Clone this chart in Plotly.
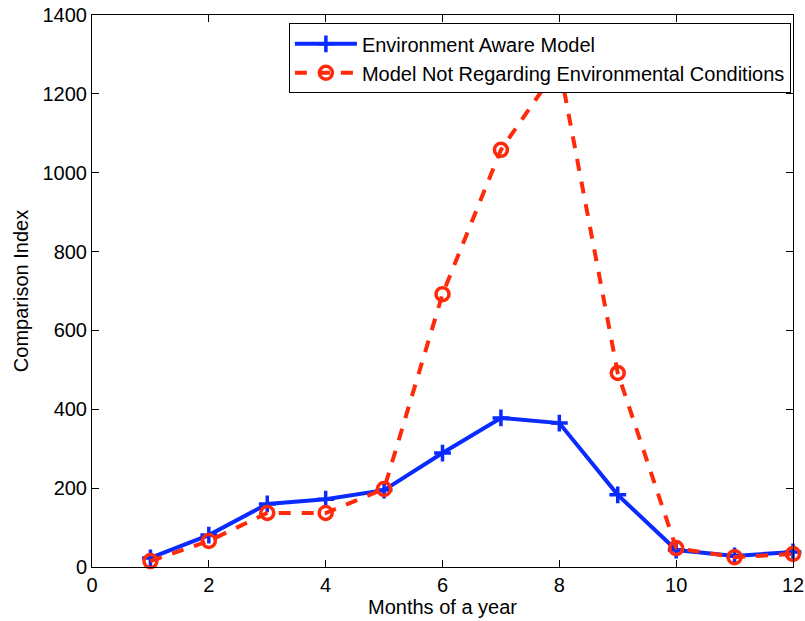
import plotly.graph_objects as go

months = [1, 2, 3, 4, 5, 6, 7, 8, 9, 10, 11, 12]
aware = [23, 81, 160, 172, 195, 289, 378, 365, 183, 43, 28, 38]
not_regarding = [15, 66, 137, 137, 198, 692, 1058, 1272, 492, 48, 25, 33]

x_ticks = [0, 2, 4, 6, 8, 10, 12]
y_ticks = [0, 200, 400, 600, 800, 1000, 1200, 1400]

BLUE = "#0a2bff"
RED = "#ff2a0a"
FONT = "Liberation Sans, Arial, Helvetica, sans-serif"
FS = 20

fig = go.Figure()
fig.add_trace(go.Scatter(
    x=months, y=aware, mode="lines+markers", name="Environment Aware Model",
    line=dict(color=BLUE, width=4),
    marker=dict(symbol="cross-thin-open", size=12, line=dict(color=BLUE, width=3.5)),
    cliponaxis=False,
))
fig.add_trace(go.Scatter(
    x=months, y=not_regarding, mode="lines+markers",
    name="Model Not Regarding Environmental Conditions",
    line=dict(color=RED, width=4, dash="12px,11px"),
    marker=dict(symbol="circle-open", size=13, color=RED, line=dict(color=RED, width=3.5)),
    cliponaxis=False,
))

axis_common = dict(
    showline=True, linecolor="black", linewidth=1, mirror="ticks",
    ticks="inside", ticklen=7, tickcolor="black", showgrid=False, zeroline=False,
    tickfont=dict(family=FONT, size=FS, color="black"),
)

fig.update_layout(
    width=805, height=621,
    margin=dict(l=92, r=12, t=15, b=54, autoexpand=False),
    paper_bgcolor="white", plot_bgcolor="white",
    font=dict(family=FONT, size=FS, color="black"),
    showlegend=True,
    legend=dict(
        x=0.997, y=0.985, xanchor="right", yanchor="top",
        bgcolor="white", bordercolor="black", borderwidth=1,
        font=dict(family=FONT, size=FS, color="black"),
        tracegroupgap=0, itemwidth=62,
    ),
    xaxis=dict(range=[0, 12], tickvals=x_ticks,
               title=dict(text="Months of a year", standoff=2,
                          font=dict(family=FONT, size=FS)),
               **axis_common),
    yaxis=dict(range=[0, 1400], tickvals=y_ticks,
               title=dict(text="Comparison Index", standoff=8,
                          font=dict(family=FONT, size=FS)),
               **axis_common),
)

fig.write_html("out.html", config={"displayModeBar": False},
               post_script="document.body.style.margin='0';")
